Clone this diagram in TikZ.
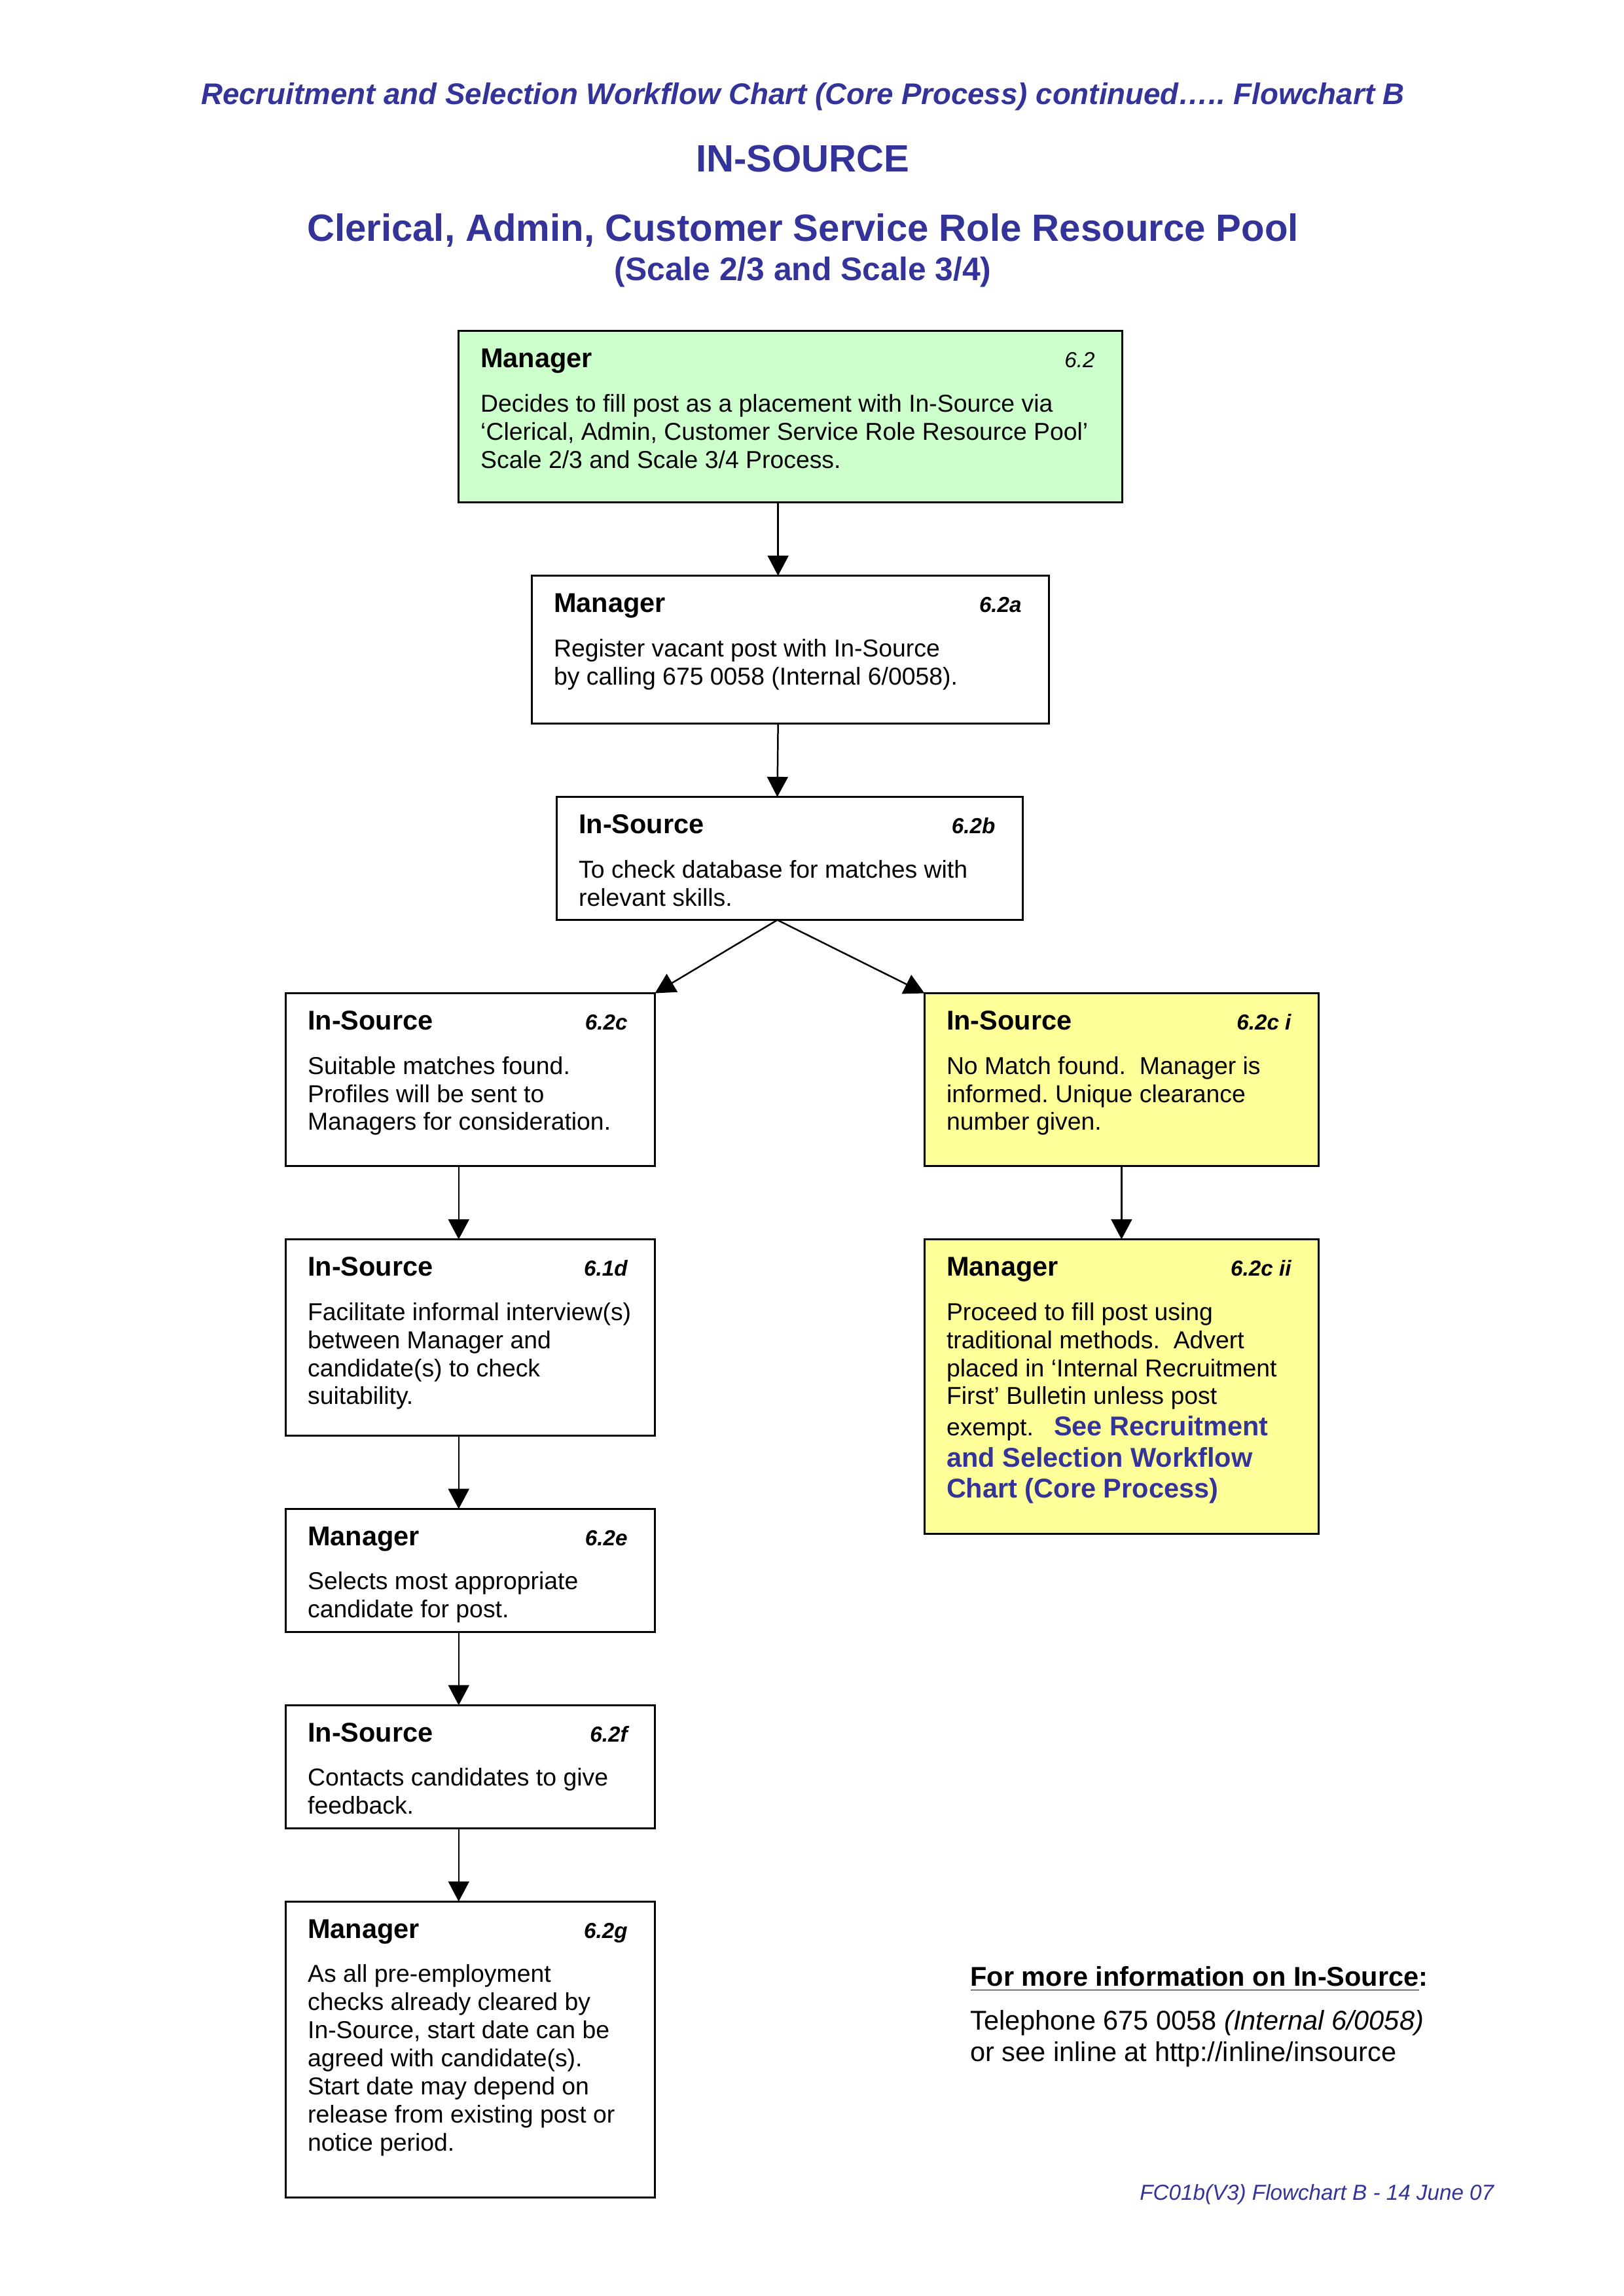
\documentclass[tikz,border=0pt]{standalone}
\usepackage{fontspec}
\setmainfont{Liberation Sans}
\usetikzlibrary{arrows.meta}
\definecolor{titleblue}{HTML}{333399}
\definecolor{boxgreen}{HTML}{CCFFCC}
\definecolor{boxyellow}{HTML}{FFFF99}
\frenchspacing
\newlength{\unitpx}
\setlength{\unitpx}{0.1895mm}
\newcommand{\stepcontent}[5]{%
	\parbox[t][\dimexpr\unitpx*#2\relax][t]{\dimexpr\unitpx*#1-5.7mm\relax}{%
		\makebox[\linewidth][l]{\rule{0pt}{13.5pt}{\fontsize{10}{12}\selectfont\bfseries #3}\hfill{\fontsize{8}{10}\selectfont\itshape #4}\kern0.7mm}\par
		\vspace{5.9pt}%
		\fontsize{9}{10.35}\selectfont #5}}
\newcommand{\seealso}[1]{{\color{titleblue}\fontsize{10}{11.5}\selectfont\bfseries #1}}
\begin{document}
\begin{tikzpicture}[
		x = \unitpx, y = -\unitpx,
		stepbox/.style = {draw, line width = 0.8pt, anchor = north west, inner xsep = 2.85mm, inner ysep = 0pt, outer sep = 0pt},
		heading/.style = {anchor = base, text = titleblue, inner sep = 0pt},
		flow/.style = {->, line width = 0.6pt},
		> = {Triangle[length = 2.6mm, width = 2.7mm]},
	]
		\useasboundingbox (0,0) rectangle (1108.2,1567.3);
		\node[heading, font = \fontsize{11}{13}\selectfont\bfseries\itshape] (title) at (548,71.4) {Recruitment and Selection Workflow Chart (Core Process) continued….. Flowchart B};
		\node[heading, font = \fontsize{14}{16}\selectfont\bfseries] (insource) at (548,117.4) {IN-SOURCE};
		\node[heading, font = \fontsize{14}{16}\selectfont\bfseries] (pool) at (548,164.7) {Clerical, Admin, Customer Service Role Resource Pool};
		\node[heading, font = \fontsize{12}{14}\selectfont\bfseries] (scale) at (548,191.6) {(Scale 2/3 and Scale 3/4)};

		\node[stepbox, fill = boxgreen] (b62) at (313,226) {\stepcontent{453}{117}{Manager}{6.2}{Decides to fill post as a placement with In-Source via\\‘Clerical, Admin, Customer Service Role Resource Pool’\\Scale 2/3 and Scale 3/4 Process.}};
		\node[stepbox] (b62a) at (363,393) {\stepcontent{353}{101}{Manager}{\bfseries 6.2a}{Register vacant post with In-Source\\by calling 675 0058 (Internal 6/0058).}};
		\node[stepbox] (b62b) at (380,544) {\stepcontent{318}{84}{In-Source}{\bfseries 6.2b}{To check database for matches with\\relevant skills.}};
		\node[stepbox] (b62c) at (195,678) {\stepcontent{252}{118}{In-Source}{\bfseries 6.2c}{Suitable matches found.\\Profiles will be sent to\\Managers for consideration.}};
		\node[stepbox, fill = boxyellow] (b62ci) at (631,678) {\stepcontent{269}{118}{In-Source}{\bfseries 6.2c i}{No Match found.\ \ Manager is\\informed. Unique clearance\\number given.}};
		\node[stepbox] (b61d) at (195,846) {\stepcontent{252}{134}{In-Source}{\bfseries 6.1d}{Facilitate informal interview(s)\\between Manager and\\candidate(s) to check\\suitability.}};
		\node[stepbox, fill = boxyellow] (b62cii) at (631,846) {\stepcontent{269}{201}{Manager}{\bfseries 6.2c ii}{Proceed to fill post using\\traditional methods.\ \ Advert\\placed in ‘Internal Recruitment\\First’ Bulletin unless post\\[1.1pt]exempt.\ \ \ \seealso{See Recruitment}\\[1.1pt]\seealso{and Selection Workflow}\\[1.1pt]\seealso{Chart (Core Process)}}};
		\node[stepbox] (b62e) at (195,1030) {\stepcontent{252}{84}{Manager}{\bfseries 6.2e}{Selects most appropriate\\candidate for post.}};
		\node[stepbox] (b62f) at (195,1164) {\stepcontent{252}{84}{In-Source}{\bfseries 6.2f}{Contacts candidates to give\\feedback.}};
		\node[stepbox] (b62g) at (195,1298) {\stepcontent{252}{202}{Manager}{\bfseries 6.2g}{As all pre-employment\\checks already cleared by\\In-Source, start date can be\\agreed with candidate(s).\\Start date may depend on\\release from existing post or\\notice period.}};

		\node[anchor = base west, align = left, inner sep = 0pt, font = \fontsize{10}{11.5}\selectfont] (info) at (662,1407) {\underline{\textbf{For more information on In-Source}}\textbf{:}\\[4.7pt]Telephone 675 0058 \textit{(Internal 6/0058)}\\or see inline at http://inline/insource};
		\node[anchor = base east, inner sep = 0pt, text = titleblue, font = \fontsize{8}{10}\selectfont\itshape] (footer) at (1020,1502) {FC01b(V3) Flowchart B - 14 June 07};

		\draw[flow] ([xshift = -1.6mm]b62.south) -- ([xshift = -1.6mm]b62a.north);
		\draw[flow] ([xshift = -1.6mm]b62a.south) -- ([xshift = -1.6mm]b62b.north);
		\draw[flow] ([xshift = -1.6mm]b62b.south) -- (b62c.north east);
		\draw[flow] ([xshift = -1.6mm]b62b.south) -- (b62ci.north west);
		\draw[flow] ([xshift = -1.5mm]b62c.south) -- ([xshift = -1.5mm]b61d.north);
		\draw[flow] ([xshift = -1.5mm]b61d.south) -- ([xshift = -1.5mm]b62e.north);
		\draw[flow] ([xshift = -1.5mm]b62e.south) -- ([xshift = -1.5mm]b62f.north);
		\draw[flow] ([xshift = -1.5mm]b62f.south) -- ([xshift = -1.5mm]b62g.north);
		\draw[flow] (b62ci.south) -- (b62cii.north);
\end{tikzpicture}
\end{document}
